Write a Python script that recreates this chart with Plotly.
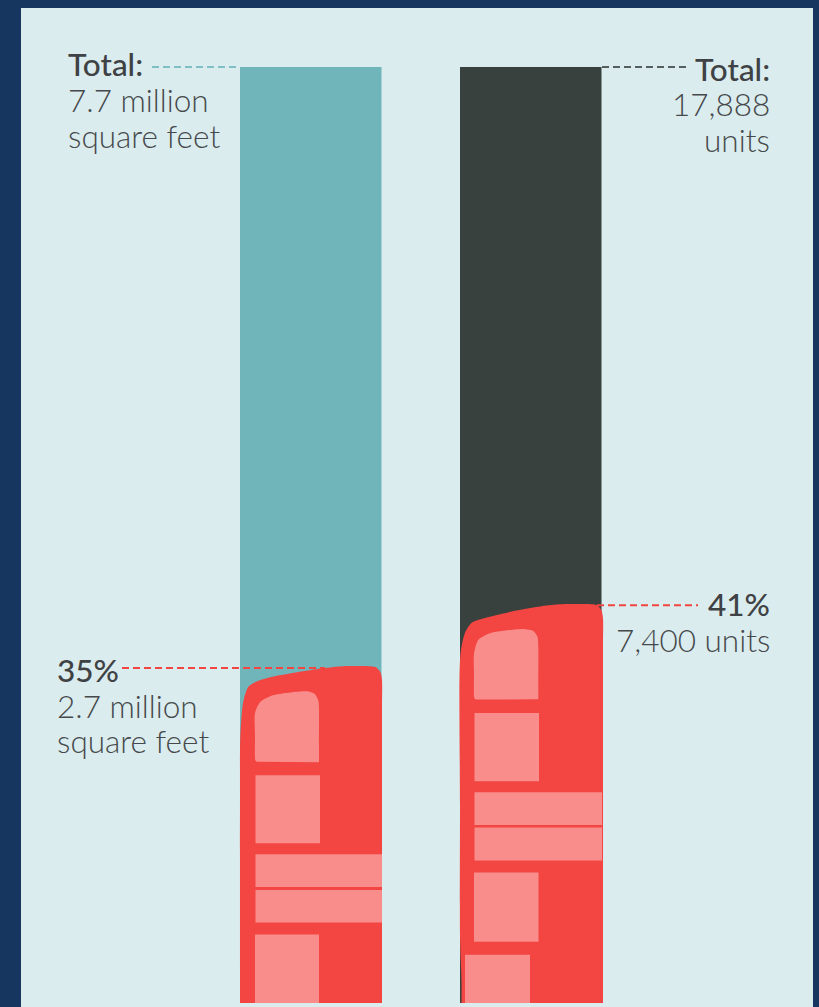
import plotly.graph_objects as go

# ---- values ----
total_sqft = 7.7          # million square feet
total_units = 17888
share_sqft_level = 2.755  # height of the red leader, left
share_units_level = 7600  # height of the red leader, right
pictogram_sqft = 2.77     # drawn height of the left building (labelled 2.7 million)
pictogram_units = 7630    # drawn height of the right building (labelled 7,400 units)

labels_left_total = ["Total:", "7.7 million", "square feet"]
labels_right_total = ["Total:", "17,888", "units"]
labels_left_share = ["35%", "2.7 million", "square feet"]
labels_right_share = ["41%", "7,400 units"]

# ---- pictogram outlines, horizontal offset from bar edge / depth below the roof ----
left_body_dx = [0, 0, 0, 0, 0.3, 3, 8, 15, 30, 57, 83, 103, 128, 136, 140.5, 142, 142, 142, 142]
left_body_dy = [337, 330, 300, 134, 71, 37, 21, 16, 11, 6, 2, 0, 0, 1, 6, 14, 40, 330, 337]
left_windows = [
    ([17, 15.5, 15, 15, 15, 20, 33, 68, 75, 78.5, 79, 79, 79],
     [95.5, 94.5, 92, 70, 47, 36, 29, 25, 28, 35, 45, 80, 96]),
    ([15.5, 80, 80, 15.5], [109, 109, 177, 177]),
    ([15.5, 142, 142, 15.5], [188, 188, 221, 221]),
    ([15.5, 142, 142, 15.5], [224, 224, 256.5, 256.5]),
    ([15, 79, 79, 15], [268.5, 268.5, 337, 337]),
]
right_body_dx = [1.5, 1.5, 0.7, 0, 0, -0.5, 0.7, 5, 11.7, 26.7, 56.7, 86.7, 106.7, 129, 137, 141.5, 143, 143, 143, 143]
right_body_dy = [398, 375, 355, 330, 200, 74, 48, 29, 19, 13.7, 6.7, 1.7, 0.3, 0.3, 1.5, 6.5, 15, 40, 390, 398]
right_windows = [
    ([16, 14.5, 14, 14, 14, 18.3, 30, 65, 73, 77.5, 78.3, 78.3, 78.3],
     [95.5, 94.5, 92, 70, 50, 36, 29.3, 25.3, 27, 33, 43, 80, 95.3]),
    ([14.5, 79, 79, 14.5], [109, 109, 177, 177]),
    ([14.5, 142, 142, 14.5], [188, 188, 220.5, 220.5]),
    ([14.5, 142, 142, 14.5], [223, 223, 256, 256]),
    ([14, 78.5, 78.5, 14], [268, 268, 337, 337]),
    ([5, 70, 70, 5], [350, 350, 398, 398]),
]

TEAL, DARK, RED, PINK = "#6fb5ba", "#39413f", "#f34541", "#f98d8b"
PANEL, NAVY, INK = "#daecee", "#16365f", "#46494b"
W, H = 819, 1007
PX_TOP, PX_BASE = 67, 1003
BAR_H = PX_BASE - PX_TOP
LEFT_X, RIGHT_X, BAR_W = 240, 460, 141.5


def py(px, total):
    """pixel row -> value on an axis whose bar of `total` fills the bar height"""
    return (PX_BASE - px) / BAR_H * total


def scale(dy, depth, value):
    """depth below the roof -> value on the axis"""
    return [value * (1 - d / depth) for d in dy]


fig = go.Figure()


def bar(x, v, c, ax):
    fig.add_trace(go.Bar(x=[x + BAR_W / 2], y=[v], width=[BAR_W], marker=dict(color=c, line_width=0),
                         yaxis=ax, showlegend=False, hoverinfo="skip"))


def leader(x0, x1, v, c, ax):
    fig.add_trace(go.Scatter(x=[x0, x1], y=[v, v], mode="lines", yaxis=ax, showlegend=False, hoverinfo="skip",
                             line=dict(color=c, width=2, dash="7px,4px")))


def poly(xs, ys, c, ax):
    curved = len(xs) > 4
    fig.add_trace(go.Scatter(x=xs, y=ys, mode="lines", fill="toself", fillcolor=c, yaxis=ax,
                             line=dict(width=0, color=c, shape="spline" if curved else "linear", smoothing=0.7),
                             showlegend=False, hoverinfo="skip"))


def building(x0, dx, dy, windows, value, ax):
    depth = max(dy)
    poly([x0 + d for d in dx], scale(dy, depth, value), RED, ax)
    for wx, wy in windows:
        poly([x0 + d for d in wx], scale(wy, depth, value), PINK, ax)


bar(LEFT_X, total_sqft, TEAL, "y")
bar(RIGHT_X, total_units, DARK, "y2")
leader(152, 240, total_sqft, "#7fc0c4", "y")
leader(602, 690, total_units, "#55605e", "y2")
leader(122, 325, share_sqft_level, RED, "y")
leader(597, 698, share_units_level, RED, "y2")
building(LEFT_X, left_body_dx, left_body_dy, left_windows, pictogram_sqft, "y")
building(RIGHT_X, right_body_dx, right_body_dy, right_windows, pictogram_units, "y2")


def text(s, x, y, anchor, strong=False):
    return dict(text=s, x=x / W, y=1 - y / H, xref="paper", yref="paper", xanchor=anchor, yanchor="middle",
                showarrow=False, align=anchor,
                font=dict(family="Lato", size=31.5, color="#3f4244" if strong else INK,
                          weight=500 if strong else 300))


ann = []
for s, y, st in zip(labels_left_total, [64.5, 100, 136], [True, False, False]):
    ann.append(text(s, 66, y, "left", st))
for s, y, st in zip(labels_left_share, [669.5, 706, 741], [True, False, False]):
    ann.append(text(s, 55, y, "left", st))
for s, y, st in zip(labels_right_total, [68.5, 104, 140], [True, False, False]):
    ann.append(text(s, 771.5, y, "right", st))
for s, y, st in zip(labels_right_share, [603.5, 640], [True, False]):
    ann.append(text(s, 771.5, y, "right", st))

fig.update_layout(
    width=W, height=H, margin=dict(l=0, r=0, t=0, b=0), paper_bgcolor=NAVY, plot_bgcolor=PANEL,
    barmode="overlay", annotations=ann,
    xaxis=dict(domain=[21 / W, 813 / W], range=[21, 813], visible=False, fixedrange=True),
    yaxis=dict(domain=[0, 1 - 8 / H], range=[py(1007, total_sqft), py(8, total_sqft)], visible=False, fixedrange=True),
    yaxis2=dict(domain=[0, 1 - 8 / H], range=[py(1007, total_units), py(8, total_units)], visible=False,
                overlaying="y", fixedrange=True),
)
fig.write_html("out.html", config=dict(displayModeBar=False),
               post_script="document.body.style.margin='0';document.documentElement.style.overflow='hidden';")
